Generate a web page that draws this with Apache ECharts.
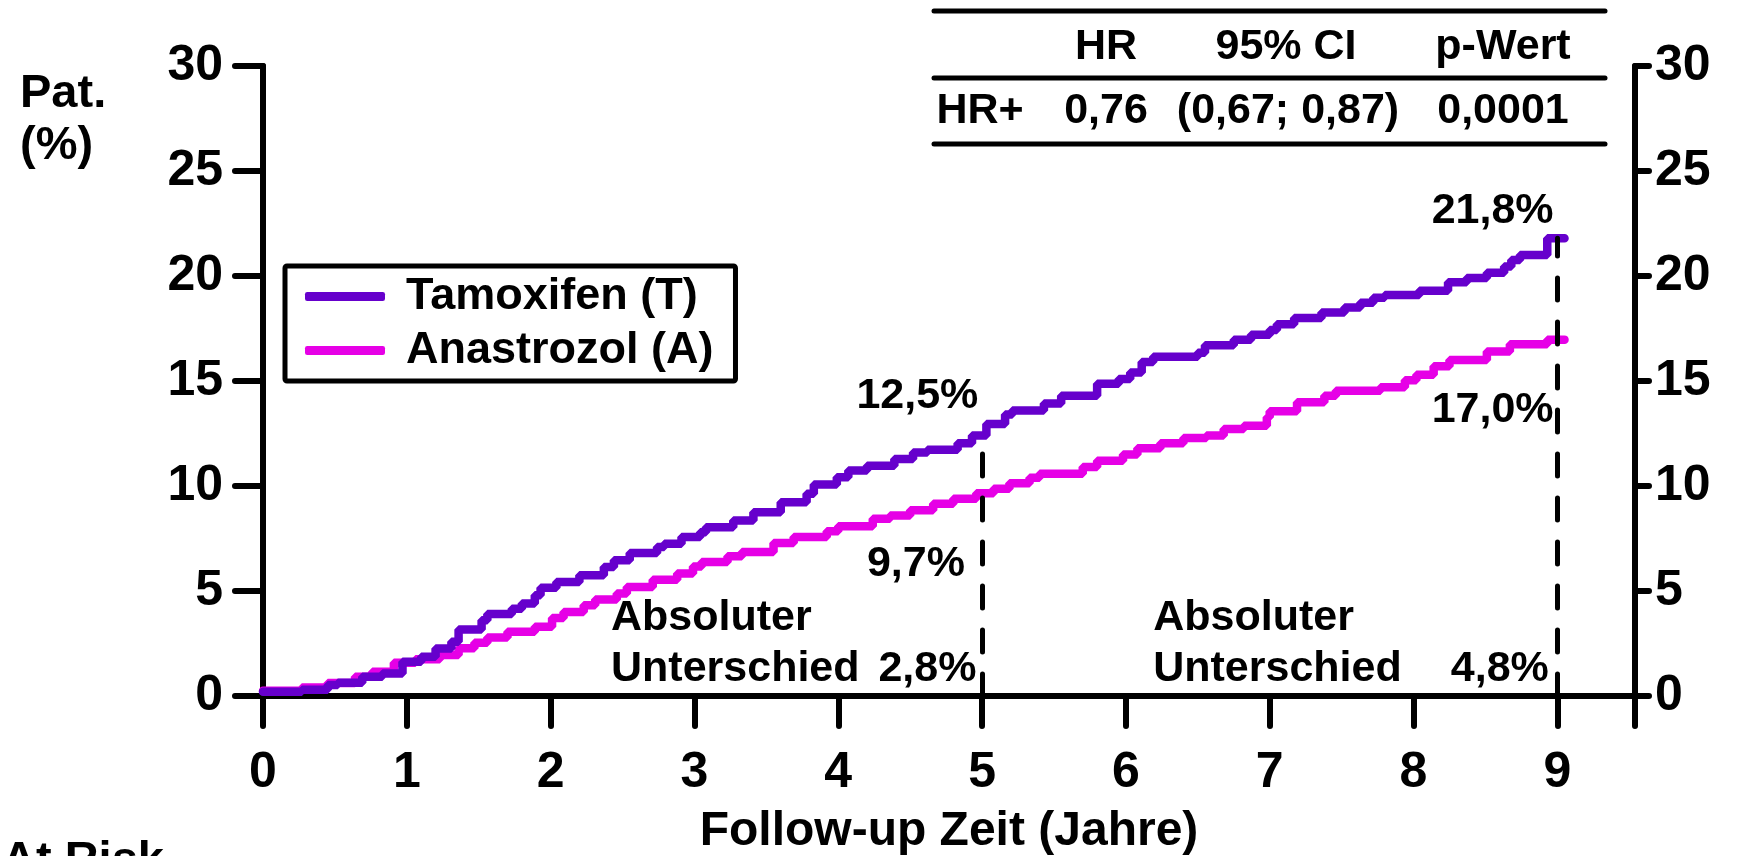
<!DOCTYPE html>
<html>
<head>
<meta charset="utf-8">
<script src="https://cdn.jsdelivr.net/npm/echarts@6/dist/echarts.min.js"></script>
<style>
  html, body { margin: 0; padding: 0; background: #fff; }
  #chart { width: 1739px; height: 856px; }
</style>
</head>
<body>
<div id="chart"></div>
<script>
// tick values of both axes
const xTicks = [0, 1, 2, 3, 4, 5, 6, 7, 8, 9];
const xEnd = 9.54;
const yTicks = [0, 5, 10, 15, 20, 25, 30];

// Kaplan-Meier steps [year, %]
const tamoxifen = [
  [0, 0.2], [0.27, 0.3], [0.45, 0.52], [0.52, 0.63], [0.69, 0.92], [0.83, 1.07],
  [0.97, 1.63], [1.1, 1.87], [1.2, 2.26], [1.31, 2.58], [1.36, 3.17], [1.52, 3.61],
  [1.56, 3.9], [1.73, 4.16], [1.8, 4.4], [1.89, 4.8], [1.93, 5.15], [2.04, 5.43],
  [2.2, 5.75], [2.37, 6.14], [2.44, 6.46], [2.55, 6.81], [2.74, 7.1], [2.79, 7.25],
  [2.91, 7.57], [3.04, 7.8], [3.08, 8.04], [3.27, 8.36], [3.41, 8.75], [3.6, 9.23],
  [3.78, 9.63], [3.83, 10.07], [3.99, 10.42], [4.07, 10.74], [4.2, 10.97], [4.39, 11.29],
  [4.52, 11.6], [4.62, 11.73], [4.83, 12.03], [4.93, 12.4], [5.03, 12.95], [5.16, 13.4],
  [5.21, 13.6], [5.43, 13.93], [5.55, 14.3], [5.8, 14.87], [5.95, 15.1], [6.03, 15.4],
  [6.11, 15.9], [6.19, 16.15], [6.5, 16.35], [6.55, 16.7], [6.75, 16.96], [6.87, 17.2],
  [7.0, 17.43], [7.05, 17.7], [7.17, 18.0], [7.36, 18.26], [7.52, 18.5], [7.63, 18.73],
  [7.72, 18.97], [7.8, 19.1], [8.04, 19.3], [8.24, 19.7], [8.37, 19.9], [8.51, 20.16],
  [8.63, 20.45], [8.68, 20.76], [8.74, 21.0], [8.93, 21.8], [9.05, 21.8]
];
const anastrozol = [
  [0, 0.25], [0.27, 0.4], [0.45, 0.62], [0.64, 0.92], [0.76, 1.16], [0.91, 1.58],
  [1.06, 1.75], [1.23, 1.95], [1.36, 2.27], [1.47, 2.53], [1.56, 2.79], [1.7, 3.06],
  [1.89, 3.3], [2.01, 3.72], [2.09, 4.0], [2.23, 4.32], [2.31, 4.59], [2.46, 4.88],
  [2.53, 5.19], [2.71, 5.54], [2.88, 5.83], [2.99, 6.17], [3.05, 6.38], [3.23, 6.65],
  [3.33, 6.86], [3.55, 7.28], [3.69, 7.57], [3.92, 7.85], [4.0, 8.08], [4.24, 8.44],
  [4.36, 8.6], [4.5, 8.84], [4.66, 9.15], [4.8, 9.39], [4.96, 9.66], [5.08, 9.87],
  [5.19, 10.13], [5.33, 10.39], [5.4, 10.58], [5.7, 10.9], [5.8, 11.2], [5.98, 11.5],
  [6.08, 11.8], [6.24, 12.03], [6.4, 12.29], [6.56, 12.4], [6.68, 12.72], [6.82, 12.87],
  [6.98, 13.27], [7.0, 13.56], [7.19, 13.99], [7.38, 14.3], [7.46, 14.54], [7.77, 14.7],
  [7.94, 15.04], [8.02, 15.3], [8.14, 15.7], [8.25, 16.0], [8.51, 16.4], [8.67, 16.75],
  [8.93, 16.97], [9.05, 16.97]
];

// dashed guide lines [year, top %]
const guides = [[5, 12.5], [9, 21.8]];

// annotation texts [text, year, %, align]
const notes = [
  ['12,5%', 4.55, 14.3, 'center'],
  ['9,7%', 4.54, 6.3, 'center'],
  ['21,8%', 8.55, 23.1, 'center'],
  ['17,0%', 8.55, 13.6, 'center'],
  ['Absoluter', 2.42, 3.7, 'left'],
  ['Unterschied', 2.42, 1.3, 'left'],
  ['2,8%', 4.62, 1.3, 'center'],
  ['Absoluter', 6.19, 3.7, 'left'],
  ['Unterschied', 6.19, 1.3, 'left'],
  ['4,8%', 8.6, 1.3, 'center']
];

const tableHead = ['HR', '95% CI', 'p-Wert'];
const tableRow = ['HR+', '0,76', '(0,67; 0,87)', '0,0001'];

const FONT = '"Liberation Sans", Arial, Helvetica, sans-serif';
const txt = { fontFamily: FONT, fontWeight: 'bold', color: '#000' };

const chart = echarts.init(document.getElementById('chart'));

const yAxisBase = {
  type: 'value', min: 0, max: 30, interval: 5,
  axisLine: { show: true, lineStyle: { color: '#000', width: 6, cap: 'round' } },
  splitLine: { show: false }
};

chart.setOption({
  animation: false,
  grid: { left: 263, right: 104, top: 66, bottom: 160, outerBoundsMode: 'none' },
  legend: {
    orient: 'vertical', left: 285, top: 266,
    data: ['Tamoxifen (T)', 'Anastrozol (A)'],
    icon: 'roundRect', itemWidth: 80, itemHeight: 9, itemGap: 9,
    borderColor: '#000', borderWidth: 5, borderRadius: 2,
    padding: [8, 22, 8, 20],
    selectedMode: false,
    textStyle: Object.assign({ fontSize: 45, padding: [0, 0, 0, 16] }, txt)
  },
  xAxis: {
    type: 'value', min: 0, max: xEnd, interval: 1,
    name: 'Follow-up Zeit (Jahre)', nameLocation: 'middle', nameGap: 112,
    nameTextStyle: Object.assign({ fontSize: 48 }, txt),
    axisLine: { lineStyle: { color: '#000', width: 6, cap: 'round' } },
    axisTick: { show: true, length: 30, customValues: xTicks.concat([xEnd]),
      lineStyle: { color: '#000', width: 6, cap: 'round' } },
    axisLabel: Object.assign({ fontSize: 50, margin: 52, customValues: xTicks }, txt),
    splitLine: { show: false }
  },
  yAxis: [
    Object.assign({}, yAxisBase, {
      position: 'left',
      axisTick: { show: true, length: 28, lineStyle: { color: '#000', width: 6, cap: 'round' } },
      axisLabel: Object.assign({ fontSize: 50, margin: 40 }, txt)
    }),
    Object.assign({}, yAxisBase, {
      position: 'right',
      axisTick: { show: true, length: 14, lineStyle: { color: '#000', width: 6, cap: 'round' } },
      axisLabel: Object.assign({ fontSize: 50, margin: 20 }, txt)
    })
  ],
  series: [
    {
      name: 'Anastrozol (A)', type: 'line', step: 'end', showSymbol: false,
      data: anastrozol, color: '#E600E6',
      lineStyle: { width: 8.5, color: '#E600E6', cap: 'round' }
    },
    {
      name: 'Tamoxifen (T)', type: 'line', step: 'end', showSymbol: false,
      data: tamoxifen, color: '#6600CC',
      lineStyle: { width: 8.5, color: '#6600CC', cap: 'round' },
      markLine: {
        silent: true, symbol: 'none', label: { show: false },
        lineStyle: { color: '#000', width: 5, type: [22, 22], cap: 'round' },
        data: guides.map(g => [{ coord: [g[0], 0] }, { coord: [g[0], g[1]] }])
      }
    }
  ]
});

// texts placed through the chart's own scales
const noteGraphics = notes.map(n => {
  const p = chart.convertToPixel({ gridIndex: 0 }, [n[1], n[2]]);
  return {
    type: 'text', x: p[0], y: p[1],
    style: { text: n[0], fontSize: 43, fontFamily: FONT, fontWeight: 'bold', fill: '#000',
      align: n[3], verticalAlign: 'middle' }
  };
});

const headX = [1106, 1286, 1503];
const rowX = [980, 1106, 1288, 1503];
const tableGraphics = [11, 78, 144].map(y => ({
  type: 'line', shape: { x1: 934, y1: y, x2: 1605, y2: y },
  style: { stroke: '#000', lineWidth: 5, lineCap: 'round' }
})).concat(tableHead.map((t, i) => ({
  type: 'text', x: headX[i], y: 47,
  style: { text: t, fontSize: 43, fontFamily: FONT, fontWeight: 'bold', fill: '#000',
    align: 'center', verticalAlign: 'middle' }
}))).concat(tableRow.map((t, i) => ({
  type: 'text', x: rowX[i], y: 111,
  style: { text: t, fontSize: 43, fontFamily: FONT, fontWeight: 'bold', fill: '#000',
    align: 'center', verticalAlign: 'middle' }
})));

const sideTexts = [
  ['Pat.', 20, 94], ['(%)', 20, 146]
].map(s => ({
  type: 'text', x: s[1], y: s[2],
  style: { text: s[0], fontSize: 47, fontFamily: FONT, fontWeight: 'bold', fill: '#000',
    align: 'left', verticalAlign: 'middle' }
}));
sideTexts.push({
  type: 'text', x: 2, y: 838,
  style: { text: 'At Risk', fontSize: 47, fontFamily: FONT, fontWeight: 'bold', fill: '#000',
    align: 'left', verticalAlign: 'top' }
});

chart.setOption({ graphic: noteGraphics.concat(tableGraphics, sideTexts) });
</script>
</body>
</html>
